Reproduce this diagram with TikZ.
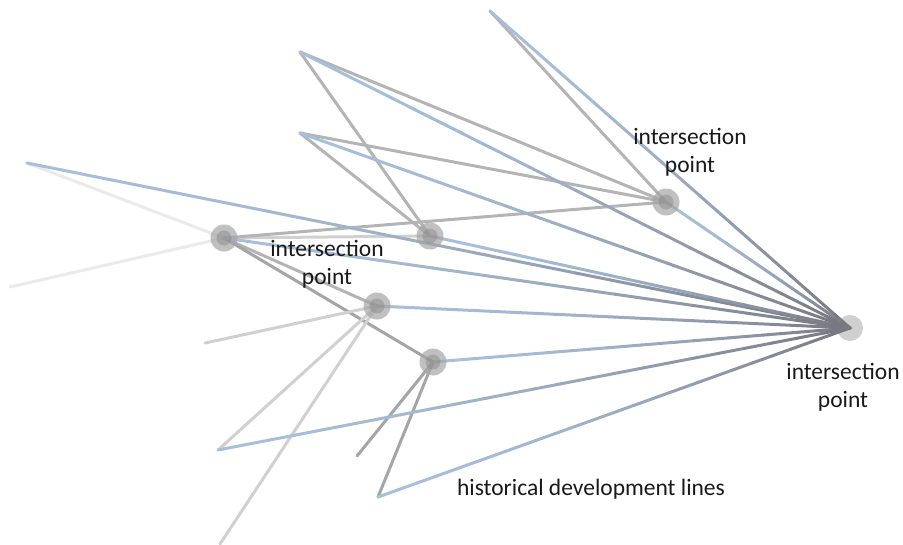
\documentclass[tikz,border=0pt]{standalone}
\usepackage{fontspec}
\setmainfont{Carlito}
\usetikzlibrary{calc}
\definecolor{hubdark}{RGB}{118,118,124}
\definecolor{lineblue}{RGB}{168,190,218}
\definecolor{linegray}{RGB}{180,180,180}
\definecolor{midgray}{RGB}{165,165,165}
\definecolor{softgray}{RGB}{208,208,208}
\definecolor{paleline}{RGB}{234,234,234}
\definecolor{txt}{RGB}{25,25,25}
\newcommand\fanline[3]{%
  \foreach \k in {0,...,23}{%
    \pgfmathsetmacro\ta{\k/24}%
    \pgfmathsetmacro\tb{(\k+1)/24}%
    \pgfmathsetmacro\mixv{100*((\k+0.5)/24)^2}%
    \draw[fan, color=hubdark!\mixv!#3] ($(#1)!\ta!(#2)$) -- ($(#1)!\tb!(#2)$);
  }}
\begin{document}
\begin{tikzpicture}[x=1pt,y=-1pt,
  fan/.style={line width=3pt, line cap=round},
  plain/.style={line width=3pt, line cap=round},
  knot/.style={circle, minimum size=27pt, inner sep=0pt, fill=midgray, fill opacity=0.7, draw=none},
  knotin/.style={circle, minimum size=15pt, inner sep=0pt, fill=gray, fill opacity=0.4, draw=none},
  hubknot/.style={circle, minimum size=26pt, inner sep=0pt, fill=softgray, draw=none},
  lab/.style={font=\fontsize{23.5}{28}\selectfont, text=txt, align=center, inner sep=0pt}]
\useasboundingbox (0,0) rectangle (903,544);
% positions
\coordinate (r) at (850,328);
\coordinate (p1) at (224,238);
\coordinate (p2) at (430,236);
\coordinate (p3) at (666,202);
\coordinate (p4) at (377,306);
\coordinate (p5) at (433,362);
\coordinate (a) at (490,11);
\coordinate (b) at (300,52);
\coordinate (c) at (300,133);
\coordinate (d) at (27,163);
\coordinate (e) at (10,287);
\coordinate (f) at (218,450);
\coordinate (g) at (378,497);
\coordinate (h) at (205,343);
\coordinate (i) at (220,544);
\coordinate (j) at (357,456);
% hub behind lines
\node[hubknot] (hub) at (r) {};
% faint and gray lines
\draw[plain, paleline] (d) -- (p1);
\draw[plain, paleline] (e) -- (p1);
\draw[plain, softgray] (p1) -- (p2);
\draw[plain, linegray] (b) -- (p2);
\draw[plain, linegray] (c) -- (p2);
\draw[plain, linegray] (b) -- (p3);
\draw[plain, linegray] (c) -- (p3);
\draw[plain, linegray] (a) -- (p3);
\draw[plain, linegray] (p1) -- (p3);
\draw[plain, linegray] (p1) -- (p4);
\draw[plain, midgray] (p1) -- (p5);
\draw[plain, softgray] (p4) -- (h);
\draw[plain, softgray] (p4) -- (f);
\draw[plain, softgray] (p4) -- (i);
\draw[plain, midgray] (p5) -- (j);
\draw[plain, midgray] (p5) -- (g);
% fan lines into hub
\fanline{a}{r}{lineblue}
\fanline{b}{r}{lineblue}
\fanline{c}{r}{lineblue}
\fanline{d}{r}{lineblue}
\fanline{p1}{r}{lineblue}
\fanline{p2}{r}{lineblue}
\fanline{p3}{r}{lineblue}
\fanline{p4}{r}{lineblue}
\fanline{p5}{r}{lineblue}
\fanline{f}{r}{lineblue}
\fanline{g}{r}{lineblue}
% knots
\foreach \q in {p1,p2,p3,p4,p5}{
  \node[knot] (k\q) at (\q) {};
  \node[knotin] (ki\q) at (\q) {};
}
% labels
\node[lab] (l3) at (690,152) {intersection\\point};
\node[lab] (l1) at (327,264) {intersection\\point};
\node[lab] (lr) at (843,387) {intersection\\point};
\node[lab] (lh) at (591,489) {historical development lines};
\end{tikzpicture}
\end{document}
